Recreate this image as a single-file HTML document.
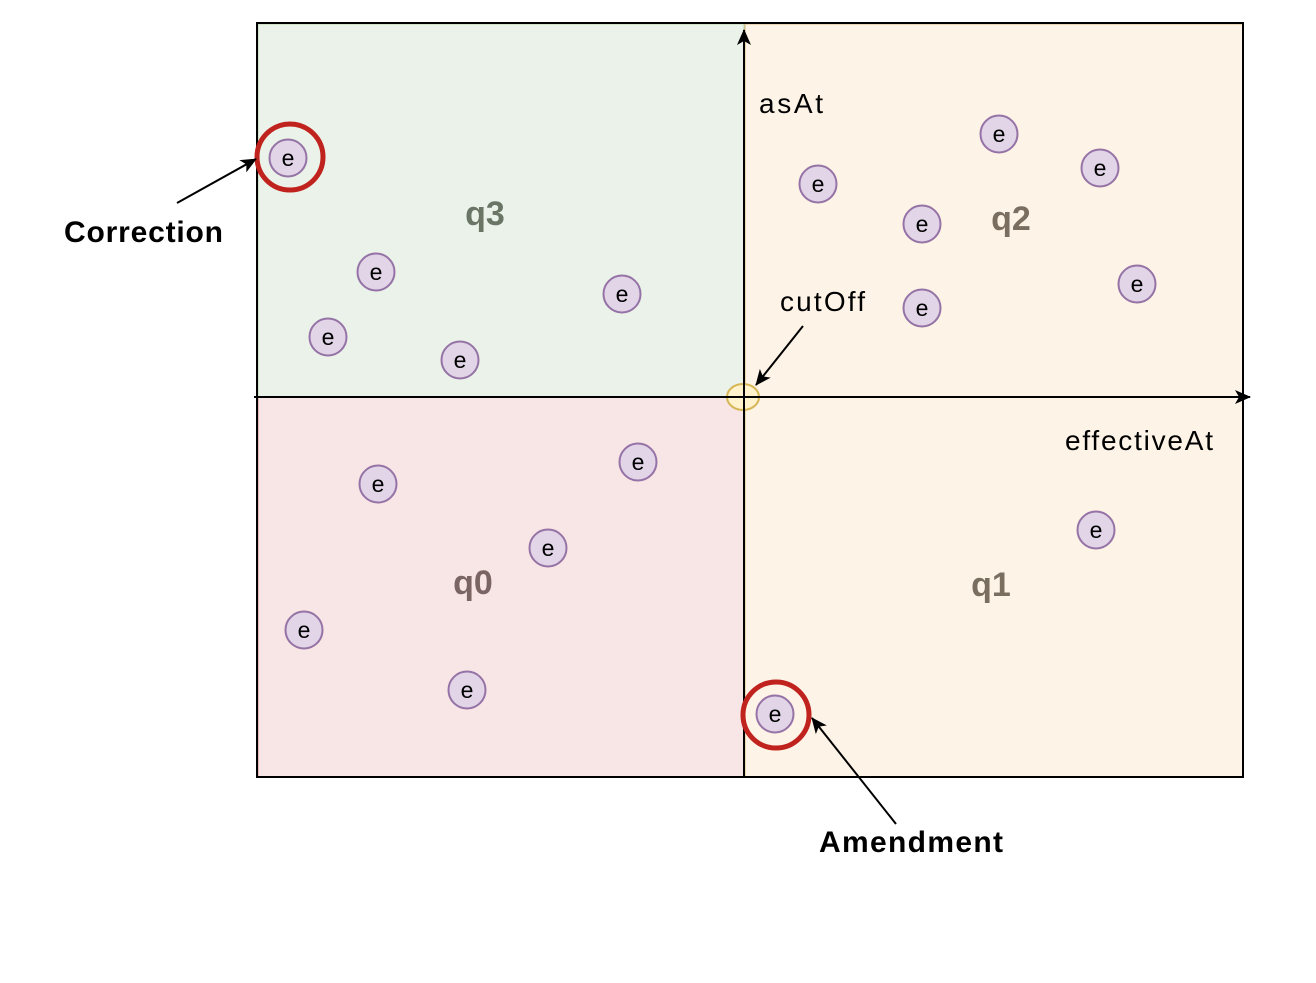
<!DOCTYPE html>
<html><head><meta charset="utf-8"><style>
body{margin:0;background:#fff;}
svg text{font-family:"Liberation Sans",Arial,sans-serif;}
</style></head><body>
<svg width="1316" height="978" viewBox="0 0 1316 978">
<defs><marker id="ah" markerWidth="16" markerHeight="14" refX="15" refY="7" orient="auto" markerUnits="userSpaceOnUse"><path d="M0,0 L16,7 L0,14 L4,7 z" fill="#000"/></marker>
<marker id="ah2" markerWidth="16" markerHeight="14" refX="15" refY="7" orient="auto" markerUnits="userSpaceOnUse"><path d="M0,0 L16,7 L0,14 L4,7 z" fill="#000"/></marker></defs>
<rect x="258" y="24" width="486" height="373" fill="#ebf2e9" stroke="#b5d1a8"/>
<rect x="258" y="397" width="486" height="380" fill="#f8e5e5" stroke="#c98a8a"/>
<rect x="745" y="24" width="498" height="753" fill="#fdf3e6" stroke="#d9b77a"/>
<rect x="257" y="23" width="986" height="754" fill="none" stroke="#000" stroke-width="2"/>
<ellipse cx="743" cy="397" rx="16" ry="13" fill="#fff2cc" stroke="#d6b656" stroke-width="2"/>
<line x1="744" y1="778" x2="744" y2="30" stroke="#000" stroke-width="2" marker-end="url(#ah)"/>
<line x1="254" y1="397" x2="1250" y2="397" stroke="#000" stroke-width="2" marker-end="url(#ah)"/>
<text x="759" y="113" font-size="28" textLength="64">asAt</text>
<text x="1065" y="450" font-size="28" textLength="148">effectiveAt</text>
<text x="780" y="311" font-size="28" textLength="85">cutOff</text>
<line x1="803" y1="326" x2="756" y2="385" stroke="#000" stroke-width="2" marker-end="url(#ah2)"/>
<g font-size="34" font-weight="bold" fill="#666" text-anchor="middle">
<text x="485" y="225" fill="#6b7566">q3</text>
<text x="1011" y="230" fill="#7a6e60">q2</text>
<text x="473" y="594" fill="#7a6464">q0</text>
<text x="991" y="596" fill="#7a6e60">q1</text>
</g>
<g id="pts"></g>
<circle cx="290" cy="157" r="33" fill="none" stroke="#c0221d" stroke-width="5"/>
<circle cx="776" cy="715" r="33" fill="none" stroke="#c0221d" stroke-width="5"/>
<line x1="177" y1="203" x2="256" y2="159" stroke="#000" stroke-width="2" marker-end="url(#ah2)"/>
<line x1="896" y1="824" x2="812" y2="718" stroke="#000" stroke-width="2" marker-end="url(#ah2)"/>
<text x="64" y="242" font-size="30" font-weight="bold" textLength="159">Correction</text>
<text x="819" y="852" font-size="30" font-weight="bold" textLength="184">Amendment</text>
</svg>
<script>
// event data: effectiveAt offset and asAt offset relative to cutOff
const effectiveAt=[-45.6,-36.8,-41.6,-28.4,-12.2, 7.4,25.5,35.6,17.8,17.8,39.3, -10.6,-36.6,-19.6,-44.0,-27.7, 35.2,3.1];
const asAt=[23.9,12.5,6.0,3.7,10.3, 21.3,26.3,22.9,17.3,8.9,11.3, -6.5,-8.7,-15.1,-23.3,-29.3, -13.3,-31.7];
const ox=744, oy=397, k=10;
function sx(v){return ox+v*k;}
function sy(v){return oy-v*k;}
const g=document.getElementById('pts');
const NS='http://www.w3.org/2000/svg';
for(let i=0;i<effectiveAt.length;i++){
  const cx=sx(effectiveAt[i]), cy=sy(asAt[i]);
  const c=document.createElementNS(NS,'circle');
  c.setAttribute('cx',cx);c.setAttribute('cy',cy);c.setAttribute('r',18.5);
  c.setAttribute('fill','#e1d5e7');c.setAttribute('stroke','#9673a6');c.setAttribute('stroke-width','2');
  
  
  g.appendChild(c);
  const t=document.createElementNS(NS,'text');
  t.setAttribute('x',cx);t.setAttribute('y',cy+8);t.setAttribute('text-anchor','middle');t.setAttribute('font-size','23');
  t.textContent='e';
  
  
  g.appendChild(t);
}
</script>
</body></html>
